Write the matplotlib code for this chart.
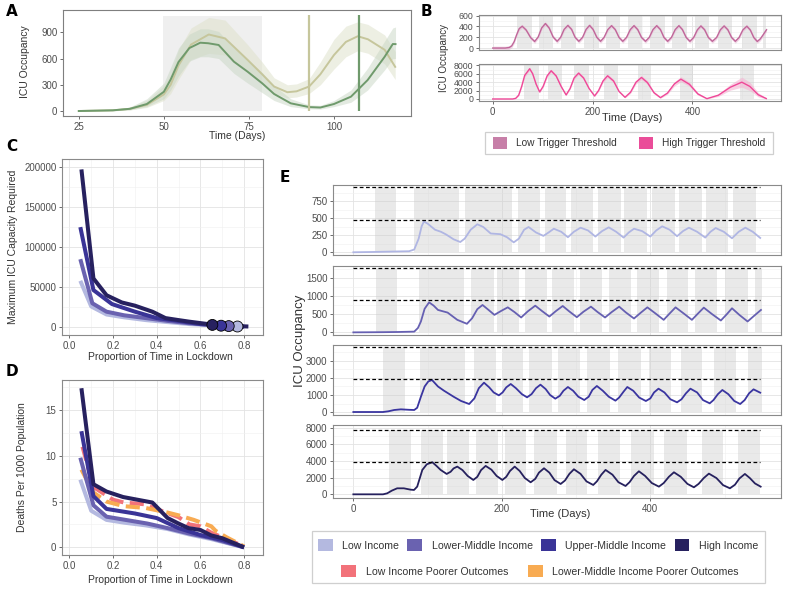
import matplotlib
matplotlib.use("Agg")
import matplotlib.pyplot as plt
from matplotlib.patches import Rectangle, Patch

plt.rcParams['font.family'] = ['Liberation Sans', 'DejaVu Sans']

# ---------------- data ----------------
# A: ICU occupancy over time, two scenarios (median + band)
a_light_x = [25, 35, 40, 45, 50, 52, 54.3, 58, 63.2, 68, 74.6, 78.9, 82.4, 86.3, 89, 92.7, 96, 100, 103.5, 107, 110, 114.9, 118]
a_light_y = [0, 8, 25, 70, 190, 300, 520, 760, 875, 830, 585, 420, 280, 215, 225, 280, 420, 640, 790, 855, 820, 700, 505]
a_light_lo = [0, 3, 12, 40, 120, 200, 360, 590, 660, 640, 450, 320, 205, 150, 160, 200, 300, 480, 620, 690, 660, 540, 360]
a_light_hi = [0, 15, 45, 120, 290, 420, 700, 950, 1070, 1040, 760, 560, 380, 300, 310, 370, 560, 820, 970, 1020, 990, 870, 680]
a_dark_x = [25, 35, 40, 45, 50, 52, 54.3, 57.5, 60.7, 63, 66.1, 70.6, 74.6, 78.9, 82.4, 87.3, 92.7, 96, 100, 105, 109.9, 114.9, 117.3, 118.1]
a_dark_y = [0, 8, 25, 80, 220, 360, 560, 720, 781, 775, 755, 564, 450, 317, 195, 88, 45, 40, 80, 164, 354, 620, 766, 765]
a_dark_lo = [0, 3, 12, 50, 140, 240, 400, 570, 620, 620, 600, 430, 320, 210, 120, 50, 25, 22, 50, 100, 240, 470, 600, 600]
a_dark_hi = [0, 15, 45, 140, 320, 500, 720, 880, 940, 940, 910, 720, 590, 440, 290, 140, 70, 65, 120, 240, 490, 800, 950, 960]
a_lockdown = (49.6, 78.9)
a_triggers = [92.8, 107.5]

# B: low / high trigger thresholds
b_low_pts = [(0, 0), (25, 0), (33, 10), (38, 40), (43, 120), (48, 250), (53, 360), (59, 405), (67, 334), (76, 193), (84, 122),
             (91, 205), (98, 372), (105.5, 455), (113, 372), (121, 205), (129, 125),
             (136, 199), (143, 346), (150.5, 420), (158, 346), (165, 199), (172.5, 125),
             (180, 199), (187, 346), (194, 420), (201, 346), (208.5, 199), (216, 125),
             (223, 197), (230.5, 342), (238, 415), (245.5, 342), (253, 197), (260.5, 125),
             (268, 197), (275.5, 342), (283, 415), (290.5, 342), (298, 197), (306, 125),
             (313.5, 197), (321, 342), (328.5, 415), (336, 342), (343, 197), (350.5, 125),
             (358, 197), (365.5, 342), (373, 415), (380, 342), (387.5, 197), (395, 125),
             (402.5, 196), (410, 339), (417, 410), (424.5, 339), (432, 196), (440, 125),
             (448.5, 196), (456, 339), (463.5, 410), (471, 339), (478.5, 196), (486, 125),
             (493.5, 195), (501, 335), (509, 405), (516, 335), (523, 195), (530, 122),
             (536, 170), (542, 250), (548.5, 340)]
b_low_band = 35
b_high_x = [0, 40, 46, 52, 58, 64, 74, 80, 87, 94, 101, 109, 117, 127, 137, 147, 155, 163, 172, 182, 193, 204,
            212, 221, 230, 242, 253, 265, 276, 287, 298, 310, 323, 336, 350, 364, 377, 394, 411, 429, 452, 476, 499, 515, 532, 548]
b_high_y = [0, 0, 150, 900, 3000, 5600, 7200, 6000, 3500, 1680, 3000, 5500, 6720, 5500, 3000, 960, 2500, 5000, 6160, 5000, 2500, 720,
            2000, 4300, 5520, 4300, 1800, 400, 1600, 4000, 5120, 3900, 1500, 320, 1400, 3600, 4720, 3500, 1200, 80, 900, 2800, 4000, 3000, 1000, 100]
b_high_band = [0, 0, 50, 150, 300, 400, 400, 350, 300, 200, 250, 350, 400, 350, 250, 150, 200, 300, 400, 350, 250, 150,
               200, 350, 450, 400, 250, 150, 250, 400, 500, 450, 300, 150, 300, 500, 600, 500, 300, 100, 300, 700, 1200, 1000, 500, 150]
b_low_locks = [(48, 78), (93, 121), (137, 167), (182, 212), (227, 255), (270, 300), (315, 345), (360, 389),
               (406, 434), (451, 479), (499, 529), (542, 548)]
b_high_locks = [(62, 93), (111, 139), (163, 192), (222, 250), (291, 318), (375, 401), (496, 524)]

# C / D: by income group
groups = ['Low Income', 'Lower-Middle Income', 'Upper-Middle Income', 'High Income']
poor_groups = ['Low Income Poorer Outcomes', 'Lower-Middle Income Poorer Outcomes']
c_x = {
    'Low Income': [0.05, 0.1, 0.17, 0.25, 0.35, 0.45, 0.55, 0.65, 0.77],
    'Lower-Middle Income': [0.05, 0.105, 0.17, 0.25, 0.35, 0.45, 0.55, 0.65, 0.75, 0.8],
    'Upper-Middle Income': [0.05, 0.11, 0.195, 0.25, 0.3, 0.4, 0.5, 0.6, 0.7, 0.8],
    'High Income': [0.055, 0.11, 0.17, 0.24, 0.3, 0.38, 0.44, 0.5, 0.55, 0.65, 0.72, 0.82],
}
c_y = {
    'Low Income': [58000, 26000, 16000, 12500, 9000, 6500, 4000, 2500, 1000],
    'Lower-Middle Income': [85000, 30000, 19500, 15000, 11500, 8000, 5000, 3000, 1500, 800],
    'Upper-Middle Income': [125000, 46500, 29000, 24000, 19500, 11500, 8000, 4000, 2500, 1000],
    'High Income': [197000, 61000, 40000, 31000, 27000, 19500, 11500, 9000, 7000, 3500, 2000, 1000],
}
c_opt_x = [0.77, 0.73, 0.695, 0.655]
c_opt_y = [1000, 1500, 2000, 3000]
d_x = {
    'Low Income': [0.05, 0.1, 0.17, 0.25, 0.35, 0.45, 0.55, 0.65, 0.8],
    'Lower-Middle Income': [0.05, 0.11, 0.17, 0.357, 0.45, 0.55, 0.65, 0.8],
    'Upper-Middle Income': [0.055, 0.11, 0.17, 0.3, 0.4, 0.5, 0.6, 0.7, 0.8],
    'High Income': [0.055, 0.11, 0.17, 0.246, 0.38, 0.45, 0.5, 0.546, 0.6, 0.65, 0.7, 0.8],
    'Low Income Poorer Outcomes': [0.06, 0.11, 0.2, 0.25, 0.35, 0.42, 0.5, 0.55, 0.6, 0.65, 0.72, 0.8],
    'Lower-Middle Income Poorer Outcomes': [0.055, 0.11, 0.17, 0.25, 0.35, 0.45, 0.5, 0.57, 0.65, 0.67, 0.72, 0.8],
}
d_y = {
    'Low Income': [7.4, 4.0, 3.0, 2.7, 2.4, 2.0, 1.4, 0.9, 0.0],
    'Lower-Middle Income': [9.8, 4.6, 3.35, 2.6, 2.1, 1.5, 1.0, 0.0],
    'Upper-Middle Income': [12.7, 5.6, 4.2, 3.7, 3.2, 2.1, 1.35, 0.8, 0.0],
    'High Income': [17.4, 6.9, 6.1, 5.5, 4.9, 3.2, 2.6, 2.1, 1.9, 1.3, 1.0, 0.0],
    'Low Income Poorer Outcomes': [11.0, 6.6, 5.2, 4.9, 4.7, 4.0, 3.3, 2.5, 2.3, 1.6, 0.9, 0.1],
    'Lower-Middle Income Poorer Outcomes': [8.5, 6.0, 5.0, 4.5, 4.3, 3.8, 3.5, 3.0, 2.3, 1.8, 1.1, 0.1],
}

# E: ICU occupancy per income setting
e1_pts = [(0, 0), (30, 5), (60, 12), (75, 15), (82, 40), (88, 200), (92, 380), (95, 450), (100, 420), (110, 330),
          (118, 300), (125, 260), (135, 190), (144, 150), (150, 200), (158, 330), (167, 410), (175, 370), (185, 275), (198, 265),
          (207, 220), (216, 145), (223, 200), (230, 330), (236, 370), (246, 290), (256, 240), (263, 290), (270, 345), (280, 300),
          (289, 220), (297, 300), (306, 360), (316, 320), (326, 230), (335, 310), (344, 365), (354, 300), (364, 215), (371, 290),
          (378, 345), (389, 310), (400, 230), (408, 320), (416, 380), (426, 330), (436, 235), (444, 310), (452, 360), (463, 300),
          (474, 215), (481, 300), (488, 355), (499, 300), (510, 205), (519, 300), (528, 360), (538, 300), (548, 210)]
e2_pts = [(0, 0), (40, 5), (60, 10), (82, 20), (87, 120), (91, 300), (96, 650), (102, 827), (108, 740), (114, 618),
          (127, 545), (140, 345), (153, 236), (160, 390), (167, 640), (174, 755), (182, 620), (190, 482), (199, 590), (208, 690),
          (217, 560), (226, 410), (235, 580), (245, 736), (254, 590), (264, 436), (273, 590), (282, 727), (291, 575), (301, 418),
          (310, 570), (320, 709), (329, 560), (339, 410), (348, 560), (358, 709), (367, 550), (378, 382), (387, 540), (396, 690),
          (407, 520), (418, 345), (426, 520), (434, 690), (445, 520), (456, 345), (464, 515), (472, 682), (483, 505), (495, 327),
          (503, 500), (510, 664), (520, 480), (531, 300), (540, 460), (549, 618)]
e3_pts = [(0, 0), (40, 0), (47, 40), (55, 118), (64, 157), (75, 130), (82, 118), (86, 250), (91, 900), (96, 1500),
          (101, 1800), (106, 1880), (114, 1500), (122, 1255), (135, 900), (145, 650), (156, 470), (163, 800), (169, 1400), (176, 1725),
          (183, 1450), (189, 1150), (196, 980), (201, 1150), (206, 1450), (212, 1647), (219, 1400), (227, 1050), (234, 863), (240, 1050),
          (246, 1400), (252, 1608), (259, 1350), (265, 1000), (272, 784), (278, 950), (283, 1250), (289, 1470), (296, 1250), (303, 900),
          (311, 706), (317, 900), (322, 1300), (328, 1530), (336, 1250), (344, 900), (353, 667), (358, 850), (364, 1200), (369, 1470),
          (377, 1250), (385, 850), (394, 647), (400, 800), (405, 1150), (411, 1372), (419, 1150), (427, 750), (436, 569), (442, 750),
          (448, 1100), (454, 1372), (463, 1150), (471, 700), (480, 510), (485, 700), (491, 1050), (497, 1294), (505, 1050), (513, 650),
          (521, 470), (527, 700), (533, 1100), (539, 1333), (548, 1137)]
e4_pts = [(0, 0), (40, 0), (45.6, 120), (52, 450), (59, 720), (68, 720), (77, 560), (81.7, 520), (86, 920), (92.9, 2920),
          (99, 3600), (106.4, 3840), (112, 3400), (117.6, 2920), (125.7, 2440), (131, 2700), (135, 3100), (140, 3320), (147, 2900), (154, 2200),
          (161.6, 1720), (167, 2100), (172, 2900), (178.2, 3400), (186, 2950), (193, 2200), (200.7, 1720), (206, 2100), (211, 2800), (217.3, 3320),
          (224, 2800), (231, 1950), (238.8, 1440), (245, 1850), (250, 2600), (256.8, 3120), (264, 2600), (271, 1700), (279.2, 1240), (285, 1650),
          (291, 2450), (297.1, 3000), (306, 2450), (314, 1550), (323.1, 1120), (328, 1550), (334, 2350), (339.7, 2920), (349, 2350), (357, 1450),
          (366.6, 1000), (372, 1450), (378, 2200), (384.6, 2760), (393, 2200), (402, 1350), (411.6, 920), (418, 1350), (425, 2100), (431.8, 2640),
          (441, 2100), (450, 1250), (458.7, 840), (465, 1250), (472, 1950), (478.9, 2480), (489, 1950), (498, 1100), (507.2, 720), (514, 1150),
          (520, 1900), (527.4, 2440), (534, 1950), (541, 1300), (548.6, 920)]
e_thresholds = [(475, 950), (890, 1780), (1920, 3840), (3850, 7700)]
e_locks = [
    [(29, 58), (82, 142), (151, 214), (222, 252), (258, 287), (293, 323), (330, 360), (365, 396), (402, 433), (439, 469), (475, 505), (512, 542)],
    [(31, 59), (88, 149), (159, 189), (193, 223), (231, 261), (268, 297), (305, 335), (344, 374), (382, 412), (422, 451), (460, 490), (501, 531), (541, 550)],
    [(40, 70), (90, 151), (162, 192), (201, 229), (237, 267), (276, 305), (315, 346), (356, 387), (398, 428), (441, 470), (486, 515), (531, 550)],
    [(48, 77), (91, 121), (126, 156), (165, 195), (204, 233), (243, 274), (286, 315), (329, 359), (374, 405), (419, 450), (469, 498), (518, 548)],
]
e_yticks = [[0, 250, 500, 750], [0, 500, 1000, 1500], [0, 1000, 2000, 3000], [0, 2000, 4000, 6000, 8000]]

# ---------------- styles ----------------
income_colors = {'Low Income': '#b4b9e0', 'Lower-Middle Income': '#6a62b0',
                 'Upper-Middle Income': '#3a3497', 'High Income': '#27215f',
                 'Low Income Poorer Outcomes': '#f2727a',
                 'Lower-Middle Income Poorer Outcomes': '#f8ab52'}
TXT = '#333333'
TICK = '#4d4d4d'
W, H = 790, 598

fig = plt.figure(figsize=(7.9, 5.98), dpi=100)


def box(l, t, r, b):
    return fig.add_axes([l / W, 1 - b / H, (r - l) / W, (b - t) / H])


def ftext(x, y, s, **kw):
    kw.setdefault('ha', 'center')
    kw.setdefault('va', 'center')
    kw.setdefault('color', TXT)
    fig.text(x / W, 1 - y / H, s, **kw)


def bw(ax, xmaj, xmin, ymaj, ymin, xlabels=True, size=7):
    ax.set_xticks(xmaj)
    ax.set_xticks(xmin, minor=True)
    ax.set_yticks(ymaj)
    ax.set_yticks(ymin, minor=True)
    ax.grid(True, which='major', color='#e3e3e3', lw=0.6)
    ax.grid(True, which='minor', color='#f0f0f0', lw=0.4)
    ax.set_axisbelow(True)
    for s in ax.spines.values():
        s.set_color('#8a8a8a')
        s.set_linewidth(0.8)
    ax.tick_params(which='major', length=2.5, width=0.6, color='#555555',
                   labelsize=size, labelcolor=TICK, pad=1.5)
    ax.tick_params(which='minor', length=0)
    if not xlabels:
        ax.tick_params(axis='x', labelbottom=False, length=0)


def shade(ax, locks, top):
    for a, b in locks:
        ax.add_patch(Rectangle((a, 0), b - a, top, color='#cccccc', alpha=0.42, lw=0, zorder=1))


def legend_box(l, t, r, b):
    fig.add_artist(Rectangle((l / W, 1 - b / H), (r - l) / W, (b - t) / H,
                             transform=fig.transFigure, fill=False,
                             edgecolor='#cfcfcf', lw=0.9))


def row_legend(labels, colors, cx, cy, spacing, size=7.3):
    handles = [Patch(facecolor=c, edgecolor='none') for c in colors]
    fig.legend(handles, labels, loc='center', bbox_to_anchor=(cx / W, 1 - cy / H),
               ncol=len(labels), frameon=False, fontsize=size, handlelength=1.4,
               handleheight=1.4, handletextpad=0.9, columnspacing=spacing,
               labelcolor=TXT, borderpad=0)


# ---------------- panel A ----------------
axA = box(63, 10, 411, 116)
axA.add_patch(Rectangle((a_lockdown[0], 0), a_lockdown[1] - a_lockdown[0], 1090,
                        color='#ececec', alpha=0.8, lw=0, zorder=0))
axA.fill_between(a_light_x, a_light_lo, a_light_hi, color='#dfe2cc', alpha=0.55, lw=0)
axA.fill_between(a_dark_x, a_dark_lo, a_dark_hi, color='#c8d6c4', alpha=0.5, lw=0)
axA.plot(a_light_x, a_light_y, color='#c6c69c', lw=1.4)
axA.plot(a_dark_x, a_dark_y, color='#6f9a6c', lw=1.4)
axA.vlines(a_triggers[0], 0, 1100, color='#c6c69c', lw=1.6)
axA.vlines(a_triggers[1], 0, 1100, color='#6f9a6c', lw=1.6)
axA.set_xlim(20.35, 122.65)
axA.set_ylim(-57, 1155)
axA.set_xticks([25, 50, 75, 100])
axA.set_yticks([0, 300, 600, 900])
for s in axA.spines.values():
    s.set_color('#7f7f7f')
    s.set_linewidth(0.8)
axA.tick_params(length=2.5, width=0.6, color='#555555', labelsize=7, labelcolor=TICK, pad=1.5)
ftext(237, 136, 'Time (Days)', fontsize=7.5)
ftext(25, 62, 'ICU Occupancy', fontsize=7.5, rotation=90)

# ---------------- panel B ----------------
bx, by = zip(*b_low_pts)
axB1 = box(479, 15, 781, 50)
bw(axB1, [0, 200, 400], [100, 300, 500], [0, 200, 400, 600], [100, 300, 500], xlabels=False, size=6.3)
shade(axB1, b_low_locks, 610)
axB1.fill_between(bx, [v - b_low_band for v in by], [v + b_low_band for v in by],
                  color='#e7bcd5', alpha=0.6, lw=0, zorder=2)
axB1.plot(bx, by, color='#c0679a', lw=1.0, zorder=3)
axB1.set_xlim(-27.5, 577.5)
axB1.set_ylim(-36, 613)

axB2 = box(479, 64, 781, 101)
bw(axB2, [0, 200, 400], [100, 300, 500], [0, 2000, 4000, 6000, 8000], [1000, 3000, 5000, 7000], size=6.3)
shade(axB2, b_high_locks, 8000)
axB2.fill_between(b_high_x, [max(v - d, 0) for v, d in zip(b_high_y, b_high_band)],
                  [v + d for v, d in zip(b_high_y, b_high_band)],
                  color='#f6b3d2', alpha=0.6, lw=0, zorder=2)
axB2.plot(b_high_x, b_high_y, color='#ef4898', lw=1.0, zorder=3)
axB2.set_xlim(-27.5, 577.5)
axB2.set_ylim(-480, 8330)
axB2.tick_params(axis='x', labelsize=7)
ftext(632, 118, 'Time (Days)', fontsize=8)
ftext(444, 58, 'ICU Occupancy', fontsize=7, rotation=90)

legend_box(485, 132, 773, 154)
row_legend(['Low Trigger Threshold', 'High Trigger Threshold'], ['#c77fa8', '#ea4d99'],
           629, 143, 2.2)

# ---------------- panel C ----------------
axC = box(62, 159, 263, 335)
bw(axC, [0, 0.2, 0.4, 0.6, 0.8], [0.1, 0.3, 0.5, 0.7],
   [0, 50000, 100000, 150000, 200000], [25000, 75000, 125000, 175000])
for g in groups:
    axC.plot(c_x[g], c_y[g], color=income_colors[g], lw=2.9, solid_capstyle='butt', zorder=3)
axC.scatter(c_opt_x, c_opt_y, s=62, c=[income_colors[g] for g in groups],
            edgecolors='black', linewidths=0.6, zorder=5)
axC.set_xlim(-0.034, 0.887)
axC.set_ylim(-9600, 210000)
ftext(160, 357, 'Proportion of Time in Lockdown', fontsize=7.5)
ftext(13, 247, 'Maximum ICU Capacity Required', fontsize=7.5, rotation=90)

# ---------------- panel D ----------------
axD = box(62, 380, 263, 555)
bw(axD, [0, 0.2, 0.4, 0.6, 0.8], [0.1, 0.3, 0.5, 0.7], [0, 5, 10, 15], [2.5, 7.5, 12.5, 17.5])
for g in poor_groups:
    axD.plot(d_x[g], d_y[g], color=income_colors[g], lw=2.9, dashes=(3.5, 1.6), zorder=3)
for g in groups:
    axD.plot(d_x[g], d_y[g], color=income_colors[g], lw=2.9, solid_capstyle='butt', zorder=4)
axD.set_xlim(-0.034, 0.887)
axD.set_ylim(-0.84, 18.3)
ftext(160, 580, 'Proportion of Time in Lockdown', fontsize=7.5)
ftext(22, 467, 'Deaths Per 1000 Population', fontsize=7.5, rotation=90)

# ---------------- panel E ----------------
e_series = [e1_pts, e2_pts, e3_pts, e4_pts]
e_boxes = [(185, 255), (266, 335), (345, 415), (425, 498)]
e_ylims = [(-40, 985), (-73, 1830), (-176, 3940), (-440, 8300)]
e_colors = ['#b0b6e3', '#6660b2', '#3a35a0', '#26215e']
for i in range(4):
    t, b = e_boxes[i]
    ax = box(333, t, 781, b)
    yt = e_yticks[i]
    ymin = [(yt[k] + yt[k + 1]) / 2 for k in range(len(yt) - 1)] + [yt[-1] + (yt[1] - yt[0]) / 2]
    bw(ax, [0, 200, 400], [100, 300, 500], yt, ymin, xlabels=(i == 3))
    lo, hi = e_thresholds[i]
    shade(ax, e_locks[i], hi)
    x, y = zip(*e_series[i])
    ax.plot(x, y, color=e_colors[i], lw=1.3, zorder=3)
    ax.hlines([lo, hi], 0, 548, colors='black', lw=0.9, linestyles=(0, (3, 2)), zorder=4)
    ax.set_xlim(-27.4, 576)
    ax.set_ylim(*e_ylims[i])
ftext(560, 514, 'Time (Days)', fontsize=8)
ftext(300, 341, 'ICU Occupancy', fontsize=9.5, rotation=90)

legend_box(312, 531, 765, 583)
row_legend(groups, [income_colors[g] for g in groups], 538, 545, 0.8, size=7.6)
row_legend(poor_groups, [income_colors[g] for g in poor_groups], 540, 571, 1.9, size=7.6)

# ---------------- panel letters ----------------
letter_font = ['Liberation Sans Narrow', 'DejaVu Sans']
for s, x, y in [('A', 12, 11), ('B', 426, 11), ('C', 12, 146), ('D', 12, 372), ('E', 285, 177)]:
    ftext(x, y, s, fontsize=11, fontweight='bold', family=letter_font, color='black')

fig.savefig('out.png', dpi=100)
